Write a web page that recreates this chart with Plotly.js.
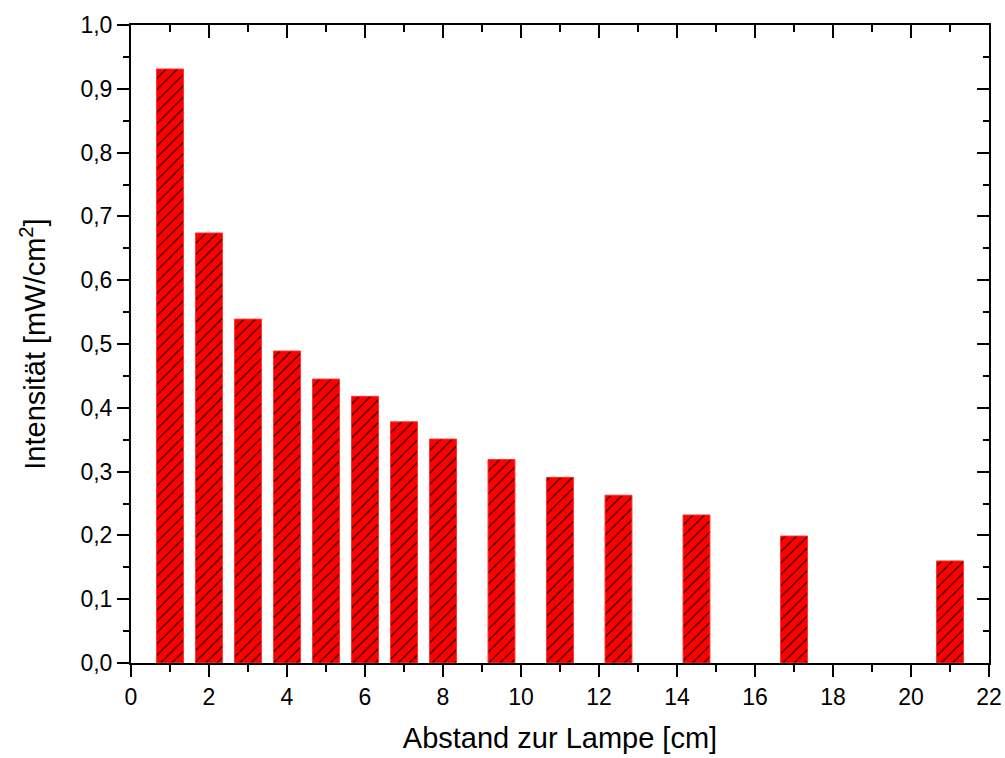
<!DOCTYPE html>
<html>
<head>
<meta charset="utf-8">
<script src="https://cdn.plot.ly/plotly-3.0.1.min.js"></script>
<style>html,body{margin:0;padding:0;background:#fff;}</style>
</head>
<body>
<div id="chart" style="width:1005px;height:758px;"></div>
<script>
const abstand = [1, 2, 3, 4, 5, 6, 7, 8, 9.5, 11, 12.5, 14.5, 17, 21];
const intensitaet = [0.931, 0.674, 0.539, 0.489, 0.445, 0.418, 0.378, 0.351, 0.319, 0.291, 0.263, 0.232, 0.199, 0.160];
const xTitle = 'Abstand zur Lampe [cm]';
const yTitle = 'Intensität [mW/cm<sup>2</sup>]';

const fam = 'Liberation Sans, Arial, sans-serif';
const tickFont = {family: fam, size: 23, color: '#000'};
const titleFont = {family: fam, size: 29, color: '#000'};

const trace = {
  type: 'bar',
  x: abstand,
  y: intensitaet,
  width: 0.69,
  marker: {
    color: '#ff0000',
    line: {color: '#ff3030', width: 1},
    pattern: {shape: '/', fgcolor: '#000', bgcolor: '#ff0000', size: 8, solidity: 0.14}
  },
  hoverinfo: 'x+y'
};

const common = {
  showline: true, linecolor: '#000', linewidth: 2,
  showgrid: false, zeroline: false, tickwidth: 2, tickcolor: '#000', ticklen: 12,
  tickfont: tickFont
};

const layout = {
  width: 1005, height: 758,
  margin: {l: 131, r: 16, t: 25, b: 95},
  paper_bgcolor: '#fff', plot_bgcolor: '#fff',
  separators: ', ',
  showlegend: false,
  font: tickFont,
  xaxis: Object.assign({}, common, {
    range: [0, 22], dtick: 2, tick0: 0, ticks: 'outside',
    title: {text: xTitle, font: titleFont, standoff: 19},
    minor: {ticks: 'outside', dtick: 1, ticklen: 7, tickwidth: 2, tickcolor: '#000'}
  }),
  xaxis2: Object.assign({}, common, {
    range: [0, 22], dtick: 2, tick0: 0, ticks: 'inside', overlaying: 'x', side: 'top',
    showticklabels: false, ticklen: 13,
    minor: {ticks: 'inside', dtick: 1, ticklen: 7, tickwidth: 2, tickcolor: '#000'}
  }),
  yaxis: Object.assign({}, common, {
    range: [0, 1.0], dtick: 0.1, tick0: 0, ticks: 'outside', tickformat: '.1f',
    title: {text: yTitle, font: titleFont, standoff: 26},
    minor: {ticks: 'outside', dtick: 0.05, ticklen: 6, tickwidth: 2, tickcolor: '#000'}
  }),
  yaxis2: Object.assign({}, common, {
    range: [0, 1.0], dtick: 0.1, tick0: 0, ticks: 'inside', overlaying: 'y', side: 'right',
    showticklabels: false, ticklen: 12,
    minor: {ticks: 'inside', dtick: 0.05, ticklen: 6, tickwidth: 2, tickcolor: '#000'}
  })
};

const dummy = {type: 'scatter', x: [0], y: [0], xaxis: 'x2', yaxis: 'y2', mode: 'markers',
  marker: {opacity: 0}, hoverinfo: 'skip', showlegend: false};

Plotly.newPlot('chart', [trace, dummy], layout, {displayModeBar: false, staticPlot: true});
</script>
</body>
</html>
